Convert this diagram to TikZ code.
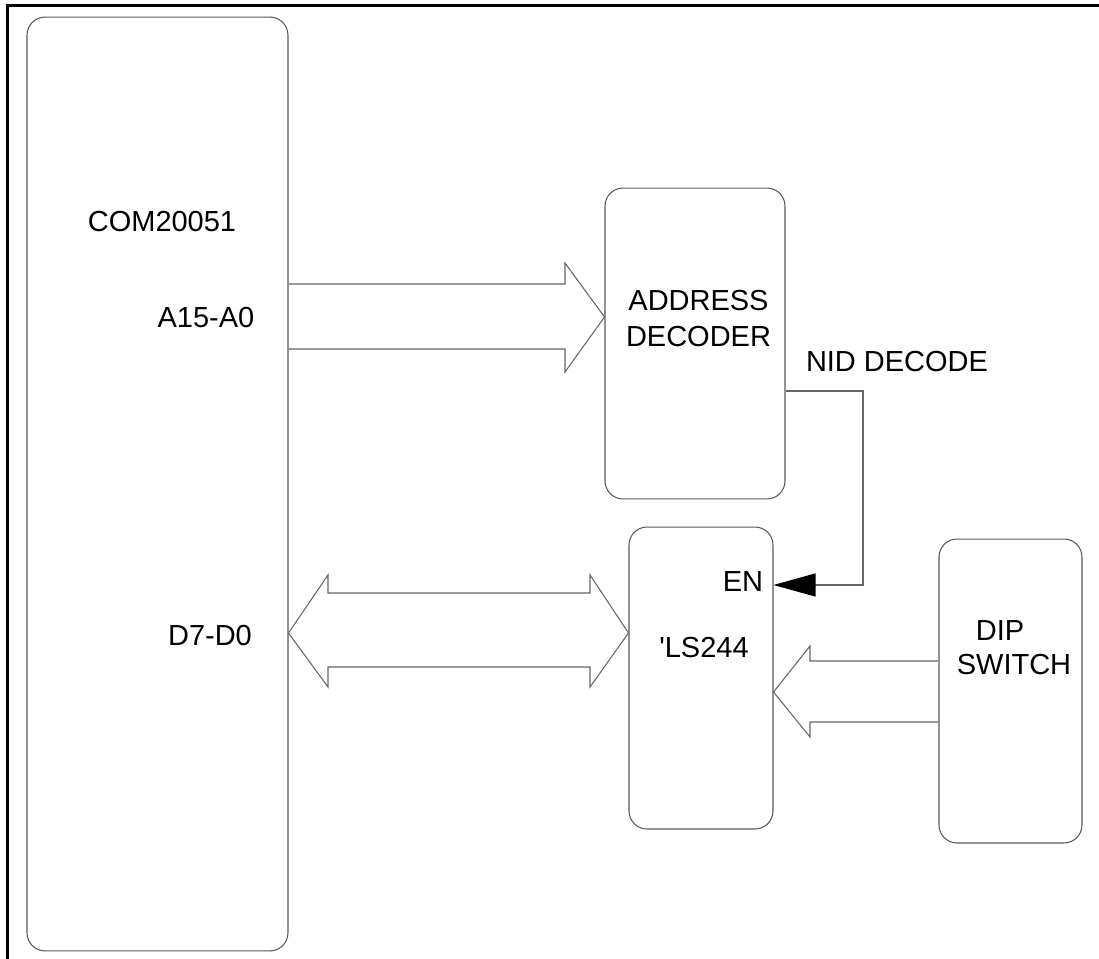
\documentclass[tikz,border=0pt]{standalone}
\usepackage{fontspec}
\setmainfont{Liberation Sans}
\usetikzlibrary{arrows.meta}
\begin{document}
\begin{tikzpicture}[x=0.02cm,y=-0.02cm,
    boxsty/.style={draw=black!65,line width=0.6pt,rounded corners=0.36cm,inner sep=0pt},
    bussty/.style={draw=black!60,line width=0.6pt},
    lblsty/.style={font=\fontsize{16.5}{21}\selectfont,inner sep=0pt,anchor=base}]
    \useasboundingbox (0,0) rectangle (1099,959);
    % frame
    \draw[line width=0.06cm] (7.5,959) -- (7.5,6) -- (1099,6);
    % chips
    \node[boxsty,minimum width=5.22cm,minimum height=18.68cm] (com) at (157.5,484) {};
    \node[boxsty,minimum width=3.6cm,minimum height=6.22cm] (addr) at (695,343.5) {};
    \node[boxsty,minimum width=2.88cm,minimum height=6.04cm] (ls) at (701,678) {};
    \node[boxsty,minimum width=2.86cm,minimum height=6.08cm] (dip) at (1010.5,691) {};
    \node[lblsty] (comlbl) at (162,232) {COM20051};
    \node[lblsty] (albl) at (206,328) {A15-A0};
    \node[lblsty] (dlbl) at (210,645) {D7-D0};
    \node[lblsty,anchor=center,align=center] (addrlbl) at (698.5,318.5) {ADDRESS\\DECODER};
    \node[lblsty] (enlbl) at (743,591) {EN};
    \node[lblsty] (lslbl) at (704,657) {\textquotesingle LS244};
    \node[lblsty] (diplbl) at (1000,640) {DIP};
    \node[lblsty] (swlbl) at (1014,674) {SWITCH};
    \node[lblsty] (nidlbl) at (897,372) {NID DECODE};
    % address bus
    \draw[bussty] (com.east |- 0,284) -- (565,284) -- (565,263) -- (addr.west |- 0,317)
    -- (565,372) -- (565,349) -- (com.east |- 0,349);
    % data bus
    \draw[bussty] (com.east |- 0,633) -- (328,575) -- (328,593) -- (590,593) -- (590,575)
    -- (ls.west |- 0,633) -- (590,687) -- (590,667) -- (328,667) -- (328,687) -- cycle;
    % switch bus
    \draw[bussty] (dip.west |- 0,661) -- (810,661) -- (810,646) -- (ls.east |- 0,692)
    -- (810,737) -- (810,722) -- (dip.west |- 0,722);
    % enable
    \coordinate (bend) at (863,585);
    \draw[bussty,-{Triangle[length=0.84cm,width=0.46cm,black]}] (addr.east |- 0,391) -| (bend)
    -- (ls.east |- bend);
\end{tikzpicture}
\end{document}
